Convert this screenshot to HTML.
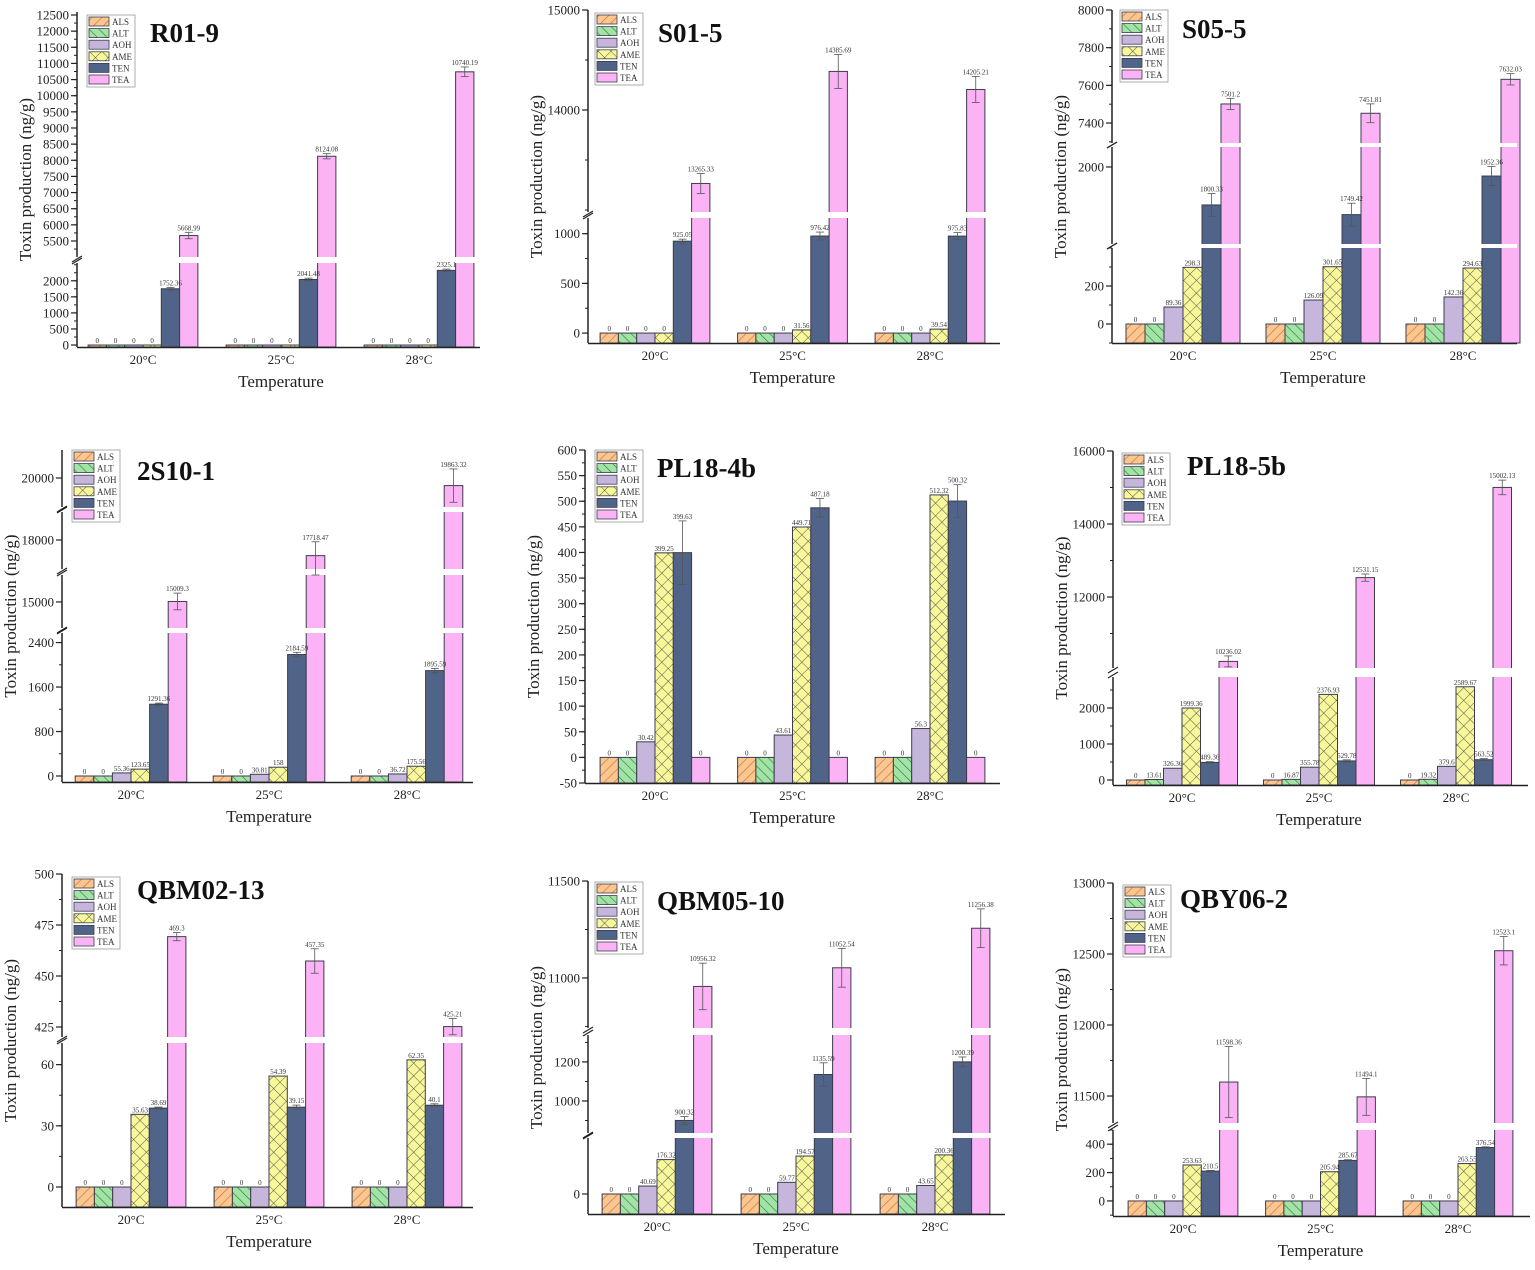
<!DOCTYPE html>
<html><head><meta charset="utf-8">
<style>
html,body{margin:0;padding:0;background:#fff;}
svg{display:block;font-family:"Liberation Serif",serif;}
</style></head>
<body>
<svg id="fig" width="1535" height="1270" viewBox="0 0 1535 1270" xmlns="http://www.w3.org/2000/svg">
<defs>
<pattern id="patALS" patternUnits="userSpaceOnUse" width="7" height="7" patternTransform="rotate(45)">
<rect width="7" height="7" fill="#fbc690"/><line x1="0" y1="0" x2="0" y2="7" stroke="#c8733a" stroke-width="1.3"/></pattern>
<pattern id="patALT" patternUnits="userSpaceOnUse" width="7" height="7" patternTransform="rotate(-45)">
<rect width="7" height="7" fill="#a3e3a6"/><line x1="0" y1="0" x2="0" y2="7" stroke="#2f7f45" stroke-width="1.3"/></pattern>
<pattern id="patAME" patternUnits="userSpaceOnUse" width="9" height="9" patternTransform="rotate(45)">
<rect width="9" height="9" fill="#f8f79a"/><line x1="0" y1="0" x2="0" y2="9" stroke="#444" stroke-width="0.9"/><line x1="0" y1="0" x2="9" y2="0" stroke="#444" stroke-width="0.9"/></pattern>
</defs>
</svg>
<script>
const categories = ['20°C','25°C','28°C'];
const toxins = ['ALS','ALT','AOH','AME','TEN','TEA'];
const fills = ['url(#patALS)','url(#patALT)','#c6b6dc','url(#patAME)','#506489','#fbb3f6'];

// values per panel: rows = ALS, ALT, AOH, AME, TEN, TEA
const valsR019 = [[0,0,0],[0,0,0],[0,0,0],[0,0,0],[1752.36,2041.48,2325.1],[5668.99,8124.08,10740.19]];
const errR019 = [[40,40,40],[100,80,150]];
const valsS015 = [[0,0,0],[0,0,0],[0,0,0],[0,31.56,39.54],[925.05,976.42,975.83],[13265.33,14385.69,14205.21]];
const errS015 = [[20,40,35],[100,170,130]];
const valsS055 = [[0,0,0],[0,0,0],[89.36,126.09,142.36],[298.3,301.65,294.63],[1800.33,1749.42,1952.36],[7501.2,7451.81,7632.03]];
const errS055 = [[60,60,50],[30,50,30]];
const vals2S101 = [[0,0,0],[0,0,0],[55.36,30.81,36.72],[123.65,158,175.56],[1291.36,2184.59,1895.59],[15009.3,17718.47,19863.32]];
const err2S101 = [[20,40,40],[150,250,300]];
const valsPL184 = [[0,0,0],[0,0,0],[30.42,43.61,56.3],[399.25,449.71,512.32],[399.63,487.18,500.32],[0,0,0]];
const errPL184 = [[62,18,32],[0,0,0]];
const valsPL185 = [[0,0,0],[13.61,16.87,19.32],[326.36,355.78,379.6],[1999.36,2376.93,2589.67],[489.36,529.78,563.52],[10236.02,12531.15,15002.13]];
const errPL185 = [[20,30,30],[150,100,200]];
const valsQBM0213 = [[0,0,0],[0,0,0],[0,0,0],[35.63,54.39,62.35],[38.69,39.15,40.1],[469.3,457.35,425.21]];
const errQBM0213 = [[0.5,1,0.7],[2,6,4]];
const valsQBM0510 = [[0,0,0],[0,0,0],[40.69,59.77,43.65],[176.32,194.57,200.36],[900.32,1135.59,1200.39],[10956.32,11052.54,11256.38]];
const errQBM0510 = [[20,60,25],[120,100,100]];
const valsQBY062 = [[0,0,0],[0,0,0],[0,0,0],[253.63,205.94,263.55],[210.5,285.67,376.54],[11598.36,11494.1,12523.1]];
const errQBY062 = [[5,5,5],[250,130,100]];

const ticksR019a = [0,500,1000,1500,2000];
const ticksR019b = [5500,6000,6500,7000,7500,8000,8500,9000,9500,10000,10500,11000,11500,12000,12500];
const ticksS015a = [0,500,1000];
const ticksS015b = [14000,15000];
const ticksS055a = [0,200];
const ticksS055b = [2000];
const ticksS055c = [7400,7600,7800,8000];
const ticks2S101a = [0,800,1600,2400];
const ticks2S101b = [15000];
const ticks2S101c = [18000];
const ticks2S101d = [20000];
const ticksPL184 = [-50,0,50,100,150,200,250,300,350,400,450,500,550,600];
const ticksPL185a = [0,1000,2000];
const ticksPL185b = [12000,14000,16000];
const ticksQBM0213a = [0,30,60];
const ticksQBM0213b = [425,450,475,500];
const ticksQBM0510a = [0];
const ticksQBM0510b = [1000,1200];
const ticksQBM0510c = [11000,11500];
const ticksQBY062a = [0,200,400];
const ticksQBY062b = [11500,12000,12500,13000];

const svg = document.getElementById('fig');
const NS = 'http://www.w3.org/2000/svg';
function mk(tag, attrs, parent){
  const e = document.createElementNS(NS, tag);
  for (const k in attrs) e.setAttribute(k, attrs[k]);
  (parent||svg).appendChild(e);
  return e;
}

function panel(cfg, vals, errs){
  const g = mk('g', {});
  
  
  const segs = cfg.segs;
  const bottom = segs[0].y0;
  const top = segs[segs.length-1].y1;
  function yScale(v){
    for (let i=0;i<segs.length;i++){
      const s = segs[i];
      if (v <= s.v1 || i === segs.length-1){
        const vv = Math.max(s.v0, Math.min(s.v1, v));
        return s.y0 + (vv - s.v0) * (s.y1 - s.y0) / (s.v1 - s.v0);
      }
      if (i+1 < segs.length && v < segs[i+1].v0) return s.y1;
    }
  }
  function xCenter(i){ return cfg.ax + cfg.pad + i*cfg.step; }
  const bw = cfg.bw;
  // bars
  categories.forEach((c, ci) => {
    const cx = xCenter(ci);
    toxins.forEach((t, ti) => {
      const v = vals[ti][ci];
      const x = cx - 3*bw + ti*bw;
      const y = yScale(v);
      const r = mk('rect', {x:x, y:y, width:bw, height:Math.max(0, bottom - y), fill:fills[ti], stroke:'#3c3c4c', 'stroke-width':1}, g);
      
      
    });
  });
  // gaps
  for (let i=0;i<segs.length-1;i++){
    const yA = segs[i+1].y0, yB = segs[i].y1;
    const gp = mk('rect', {x:cfg.ax-2, y:yA, width:cfg.right - cfg.ax + 2, height:yB - yA, fill:'#fff'}, g);
    
    
  }
  // axes
  const ax = mk('line', {x1:cfg.ax, y1:bottom+0.5, x2:cfg.right, y2:bottom+0.5, stroke:'#222', 'stroke-width':1.5}, g);
  
  
  segs.forEach((s, si) => {
    const yl = mk('line', {x1:cfg.ax, y1:s.y0, x2:cfg.ax, y2:s.y1, stroke:'#222', 'stroke-width':1.5}, g);
    
    
    // minor ticks
    const tk = s.ticks;
    if (tk.length > 1){
      const st = tk[1]-tk[0];
      for (let v = tk[0]-st; v <= s.v1; v += st/2){
        if (v < s.v0) continue;
        const yy = yScale(v);
        mk('line', {x1:cfg.ax-3, y1:yy, x2:cfg.ax, y2:yy, stroke:'#222', 'stroke-width':1}, g);
      }
    }
    tk.forEach(v => {
      const yy = yScale(v);
      mk('line', {x1:cfg.ax-6, y1:yy, x2:cfg.ax, y2:yy, stroke:'#222', 'stroke-width':1.2}, g);
      const tl = mk('text', {x:cfg.ax-8, y:yy+4.5, 'font-size':13, 'text-anchor':'end', fill:'#222'}, g);
      tl.textContent = String(v);
      
      
    });
    if (si > 0){
      const yb = s.y0 + 2, ya = segs[si-1].y1 - 2;
      mk('line', {x1:cfg.ax-5, y1:ya+3, x2:cfg.ax+5, y2:ya-3, stroke:'#222', 'stroke-width':1.2}, g);
      mk('line', {x1:cfg.ax-5, y1:yb+3, x2:cfg.ax+5, y2:yb-3, stroke:'#222', 'stroke-width':1.2}, g);
    }
  });
  // error bars + value labels
  categories.forEach((c, ci) => {
    const cx = xCenter(ci);
    toxins.forEach((t, ti) => {
      const v = vals[ti][ci];
      const x = cx - 3*bw + ti*bw + bw/2;
      let e = 0;
      if (ti === 4) e = errs[0][ci];
      if (ti === 5) e = errs[1][ci];
      const yv = yScale(v);
      let yt = yv;
      if (e > 0){
        const y1 = yScale(v+e), y2 = yScale(v-e);
        mk('line', {x1:x, y1:y1, x2:x, y2:y2, stroke:'#555', 'stroke-width':0.8}, g);
        mk('line', {x1:x-4, y1:y1, x2:x+4, y2:y1, stroke:'#555', 'stroke-width':0.8}, g);
        mk('line', {x1:x-4, y1:y2, x2:x+4, y2:y2, stroke:'#555', 'stroke-width':0.8}, g);
        yt = Math.min(yv, y1);
      }
      const lb = mk('text', {x:x, y:yt-2, 'font-size':7, 'text-anchor':'middle', fill:'#333'}, g);
      lb.textContent = String(v);
      
      
    });
    const xl = mk('text', {x:cx, y:bottom+17, 'font-size':13, 'text-anchor':'middle', fill:'#222'}, g);
    xl.textContent = c;
    
    
  });
  const xt = mk('text', {x:xCenter(1), y:bottom+40, 'font-size':17, 'text-anchor':'middle', fill:'#222'}, g);
  xt.textContent = 'Temperature';
  
  
  const ymid = (bottom + top)/2;
  const yt = mk('text', {x:cfg.ax-46, y:ymid, 'font-size':17, 'text-anchor':'middle', fill:'#222', transform:'rotate(-90 '+(cfg.ax-46)+' '+ymid+')'}, g);
  yt.textContent = 'Toxin production (ng/g)';
  
  
  const tt = mk('text', {x:cfg.tx, y:cfg.ty, 'font-size':27, 'font-weight':'bold', fill:'#111'}, g);
  tt.textContent = cfg.name;
  
  
  // legend
  const lg = mk('g', {}, g);
  
  
  mk('rect', {x:cfg.lx, y:cfg.ly, width:48, height:72, fill:'#fff', stroke:'#999', 'stroke-width':0.8}, lg);
  toxins.forEach((t, ti) => {
    const ry = cfg.ly + 2 + ti*11.6;
    const sw = mk('rect', {x:cfg.lx+2, y:ry, width:20, height:9, fill:fills[ti], stroke:'#3c3c4c', 'stroke-width':0.8}, lg);
    
    
    const lt = mk('text', {x:cfg.lx+25, y:ry+8, 'font-size':9, fill:'#333'}, lg);
    lt.textContent = t;
    
    
  });
}

panel({name:'R01-9', ax:77, right:480, pad:66, step:138, bw:18.3, tx:150, ty:42, lx:87, ly:15,
  segs:[{v0:-61.5,v1:2554,y0:347,y1:263,ticks:ticksR019a},{v0:5004,v1:12593,y0:257,y1:12,ticks:ticksR019b}]}, valsR019, errR019);
panel({name:'S01-5', ax:588, right:1000, pad:67, step:137.5, bw:18.3, tx:658, ty:42, lx:595, ly:13,
  segs:[{v0:-100,v1:1158,y0:343,y1:218,ticks:ticksS015a},{v0:12980,v1:15000,y0:212,y1:10,ticks:ticksS015b}]}, valsS015, errS015);
panel({name:'S05-5', ax:1112, right:1517, pad:71, step:140, bw:19, tx:1182, ty:38, lx:1120, ly:10,
  segs:[{v0:-100,v1:400,y0:343,y1:248,ticks:ticksS055a},{v0:1595,v1:2105,y0:244,y1:147,ticks:ticksS055b},{v0:7294,v1:8000,y0:143,y1:10,ticks:ticksS055c}]}, valsS055, errS055);
panel({name:'2S10-1', ax:62, right:473, pad:69, step:138, bw:18.6, tx:137, ty:480, lx:72, ly:450,
  segs:[{v0:-108,v1:2572,y0:782,y1:633,ticks:ticks2S101a},{v0:14532,v1:15485,y0:628,y1:575,ticks:ticks2S101b},{v0:17478,v1:18504,y0:569,y1:512,ticks:ticks2S101c},{v0:19478,v1:20504,y0:507,y1:450,ticks:ticks2S101d}]}, vals2S101, err2S101);
panel({name:'PL18-4b', ax:585, right:1000, pad:70, step:137.5, bw:18.3, tx:657, ty:477, lx:595, ly:450,
  segs:[{v0:-50,v1:600,y0:783,y1:450,ticks:ticksPL184}]}, valsPL184, errPL184);
panel({name:'PL18-5b', ax:1113, right:1528, pad:69, step:137, bw:18.5, tx:1187, ty:475, lx:1122, ly:453,
  segs:[{v0:-139,v1:2861,y0:785,y1:677,ticks:ticksPL185a},{v0:10055,v1:16000,y0:668,y1:451,ticks:ticksPL185b}]}, valsPL185, errPL185);
panel({name:'QBM02-13', ax:62, right:473, pad:69, step:138, bw:18.3, tx:137, ty:899, lx:72, ly:877,
  segs:[{v0:-9.8,v1:70.6,y0:1207,y1:1043,ticks:ticksQBM0213a},{v0:420.1,v1:500,y0:1037,y1:874,ticks:ticksQBM0213b}]}, valsQBM0213, errQBM0213);
panel({name:'QBM05-10', ax:588, right:1005, pad:69, step:139, bw:18.3, tx:657, ty:910, lx:595, ly:882,
  segs:[{v0:-102.6,v1:287,y0:1214,y1:1138,ticks:ticksQBM0510a},{v0:836,v1:1338,y0:1133,y1:1035,ticks:ticksQBM0510b},{v0:10742,v1:11500,y0:1028,y1:881,ticks:ticksQBM0510c}]}, valsQBM0510, errQBM0510);
panel({name:'QBY06-2', ax:1113, right:1530, pad:70, step:137.5, bw:18.3, tx:1180, ty:908, lx:1123, ly:885,
  segs:[{v0:-106,v1:500,y0:1216,y1:1130,ticks:ticksQBY062a},{v0:11310,v1:13000,y0:1123,y1:883,ticks:ticksQBY062b}]}, valsQBY062, errQBY062);
</script>
</body></html>
